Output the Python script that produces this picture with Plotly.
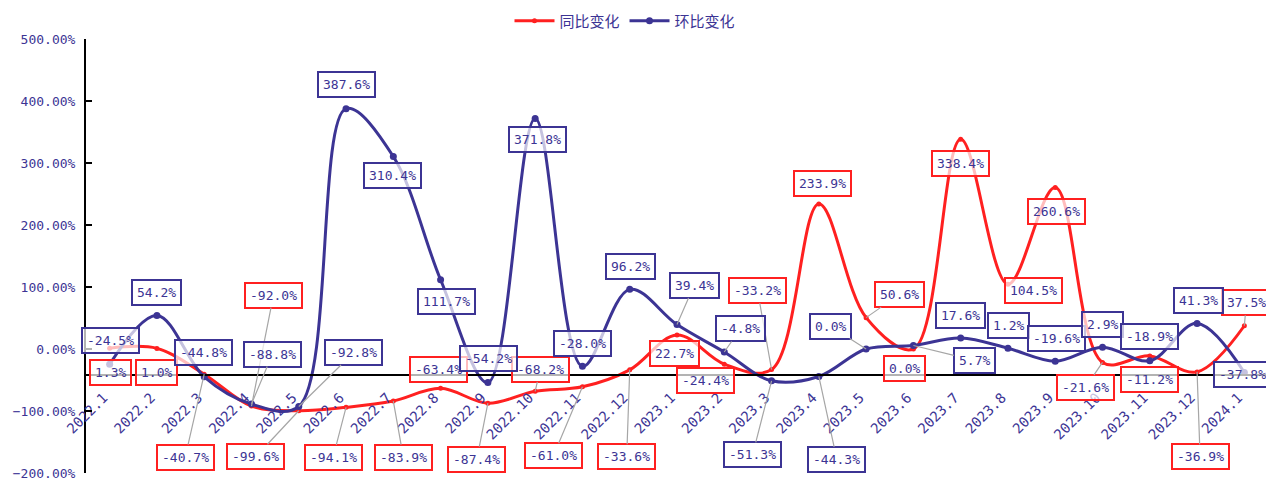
import plotly.graph_objects as go

# ---- data -------------------------------------------------------------
months = [
    "2022.1", "2022.2", "2022.3", "2022.4", "2022.5", "2022.6", "2022.7",
    "2022.8", "2022.9", "2022.10", "2022.11", "2022.12",
    "2023.1", "2023.2", "2023.3", "2023.4", "2023.5", "2023.6", "2023.7",
    "2023.8", "2023.9", "2023.10", "2023.11", "2023.12", "2024.1",
]
yoy_change = [
    1.3, 1.0, -40.7, -92.0, -99.6, -94.1, -83.9, -63.4, -87.4, -68.2, -61.0, -33.6,
    22.7, -24.4, -33.2, 233.9, 50.6, 0.0, 338.4, 104.5, 260.6, -21.6, -11.2, -36.9, 37.5,
]
mom_change = [
    -24.5, 54.2, -44.8, -88.8, -92.8, 387.6, 310.4, 111.7, -54.2, 371.8, -28.0, 96.2,
    39.4, -4.8, -51.3, -44.3, 0.0, 5.7, 17.6, 1.2, -19.6, 2.9, -18.9, 41.3, -37.8,
]

# ---- styling ----------------------------------------------------------
RED = "#ff2020"
BLUE = "#3c3494"
TEXT = "#3c3494"
LEADER = "#a6a6a6"
MONO = "DejaVu Sans Mono"
CJK = "Noto Sans CJK SC"

Y_MIN, Y_MAX = -200, 500
X_AXIS_AT = -42  # value where the category axis crosses
PAGE_OFFSET = 8  # default body margin of the written html page

# label offsets (px) from each point: (ax, ay, draw leader line)
yoy_offsets = [
    (1, 24, False), (0, 24, False), (-19, 83, True), (22, -111, True), (-43, 46, True),
    (-13, 50, True), (10, 56, True), (-2, -19, False), (-11, 56, True), (5, -22, True),
    (-29, 69, True), (-3, 87, True), (-3, 19, False), (-19, 16, False), (-14, -79, True),
    (4, -20, False), (33, -23, True), (-9, 19, False), (0, 24, False), (26, 6, False),
    (1, 24, False), (-17, 25, True), (0, 24, False), (3, 85, True), (2, -23, True),
]
mom_offsets = [
    (1, -24, False), (0, -23, False), (-1, -24, False), (21, -50, True), (55, -54, True),
    (0, -24, False), (-1, 19, False), (6, 22, False), (1, -24, False), (2, 21, False),
    (0, -23, False), (1, -23, False), (17, -39, True), (16, -23, True), (-19, 74, True),
    (18, 83, True), (-36, -23, True), (61, 15, True), (0, -23, False), (1, -23, False),
    (1, -23, False), (0, -23, False), (0, -24, False), (1, -23, False), (-2, 2, False),
]


def _labels(values, offsets, color):
    anns = []
    # category axis: place by index, "2022.1" would be read as a position
    for i, (v, (ax, ay, leader)) in enumerate(zip(values, offsets)):
        anns.append(dict(
            x=i, y=v, xref="x", yref="y",
            text=f"{v:.1f}%",
            showarrow=True, arrowhead=0, arrowwidth=1.2,
            arrowcolor=LEADER if leader else "rgba(0,0,0,0)",
            ax=ax, ay=ay, standoff=0,
            font=dict(family=MONO, size=13, color=TEXT),
            bgcolor="rgba(255,255,255,0.7)",
            bordercolor=color, borderwidth=2, borderpad=4,
        ))
    return anns


fig = go.Figure()
fig.add_trace(go.Scatter(
    x=months, y=yoy_change, name="同比变化",
    mode="lines+markers",
    line=dict(color=RED, width=3, shape="spline", smoothing=1),
    marker=dict(color=RED, size=5),
))
fig.add_trace(go.Scatter(
    x=months, y=mom_change, name="环比变化",
    mode="lines+markers",
    line=dict(color=BLUE, width=3, shape="spline", smoothing=1),
    marker=dict(color=BLUE, size=7),
))

fig.update_layout(
    width=1274, height=480,
    margin=dict(l=86 - PAGE_OFFSET, r=6 + PAGE_OFFSET, t=39 - PAGE_OFFSET, b=7 + PAGE_OFFSET,
                autoexpand=False),
    plot_bgcolor="white", paper_bgcolor="white",
    showlegend=True,
    legend=dict(
        orientation="h", xref="container", yref="container",
        x=(625 - PAGE_OFFSET) / 1274, y=1 - 13 / 480,
        xanchor="center", yanchor="middle",
        font=dict(family=CJK, size=15, color=TEXT),
        itemwidth=40, tracegroupgap=0,
        bgcolor="rgba(0,0,0,0)",
    ),
    xaxis=dict(
        type="category", range=[-0.5, len(months) - 0.5],
        anchor="free", position=(X_AXIS_AT - Y_MIN) / (Y_MAX - Y_MIN),
        showline=True, linecolor="black", linewidth=2,
        showgrid=False, ticks="", tickangle=-45,
        ticklabelstandoff=8, ticklabelshift=-6,
        tickfont=dict(family=MONO, size=14, color=TEXT),
    ),
    yaxis=dict(
        range=[Y_MIN, Y_MAX], dtick=100, tickformat=".2f", ticksuffix="%",
        showline=True, linecolor="black", linewidth=2,
        ticks="inside", ticklen=6, tickwidth=2, tickcolor="black",
        ticklabelstandoff=6,
        showgrid=False, zeroline=False,
        tickfont=dict(family=MONO, size=13, color=TEXT),
    ),
    annotations=_labels(yoy_change, yoy_offsets, RED) + _labels(mom_change, mom_offsets, BLUE),
)

fig.write_html("out.html")
